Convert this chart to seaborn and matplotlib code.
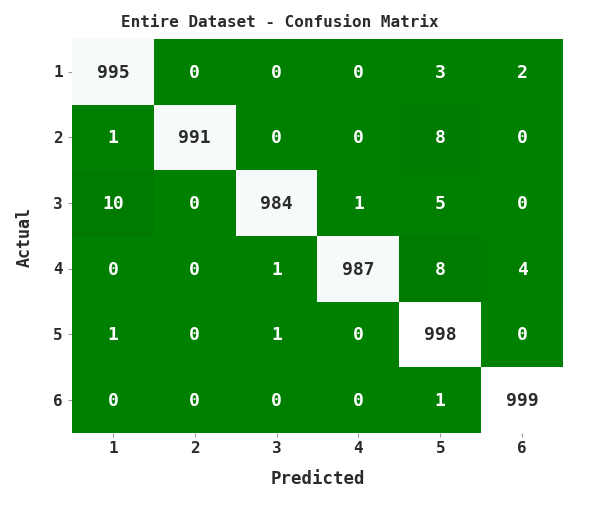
import numpy as np
import pandas as pd
import matplotlib
matplotlib.use("Agg")
import matplotlib.pyplot as plt
import seaborn as sns
from matplotlib.colors import LinearSegmentedColormap

labels = ["1", "2", "3", "4", "5", "6"]
row1 = [995, 0, 0, 0, 3, 2]
row2 = [1, 991, 0, 0, 8, 0]
row3 = [10, 0, 984, 1, 5, 0]
row4 = [0, 0, 1, 987, 8, 4]
row5 = [1, 0, 1, 0, 998, 0]
row6 = [0, 0, 0, 0, 1, 999]

cm = pd.DataFrame([row1, row2, row3, row4, row5, row6], index=labels, columns=labels)

sns.set_theme(style="white")
plt.rcParams["font.family"] = ["DejaVu Sans Mono", "DejaVu Sans"]

cmap = LinearSegmentedColormap.from_list(
    "gw",
    [(0.0, "#008000"), (0.011, "#007900"), (0.02, "#f7fafa"),
     (0.9985, "#f7fafa"), (1.0, "#ffffff")],
)

fig = plt.figure(figsize=(5.94, 5.06), dpi=100)
ax = fig.add_axes([0.1212, 0.1423, 0.8266, 0.7787])
sns.heatmap(cm, annot=True, fmt="d", cmap=cmap, vmin=0, vmax=999, cbar=False,
            ax=ax, annot_kws={"fontsize": 13, "fontweight": "bold"})

for t in ax.texts:
    v = int(t.get_text())
    t.set_color("#2b2b2b" if v > 500 else "white")

ax.set_title("Entire Dataset - Confusion Matrix", fontsize=11.5, fontweight="bold",
             color="#2b2b2b", pad=9, x=0.424)
ax.set_xlabel("Predicted", fontsize=12.5, fontweight="bold", color="#2b2b2b", labelpad=10)
ax.set_ylabel("Actual", fontsize=12, fontweight="bold", color="#2b2b2b", labelpad=14)
ax.tick_params(axis="both", length=3, width=0.8, color="#999999", labelsize=11.5,
               labelcolor="#2b2b2b")
ax.tick_params(axis="x", pad=2)
for lbl in ax.get_xticklabels() + ax.get_yticklabels():
    lbl.set_fontweight("bold")
ax.set_yticklabels(ax.get_yticklabels(), rotation=0)
ax.tick_params(axis="x", bottom=True)
ax.tick_params(axis="y", left=True)

fig.savefig("out.png", dpi=100)
